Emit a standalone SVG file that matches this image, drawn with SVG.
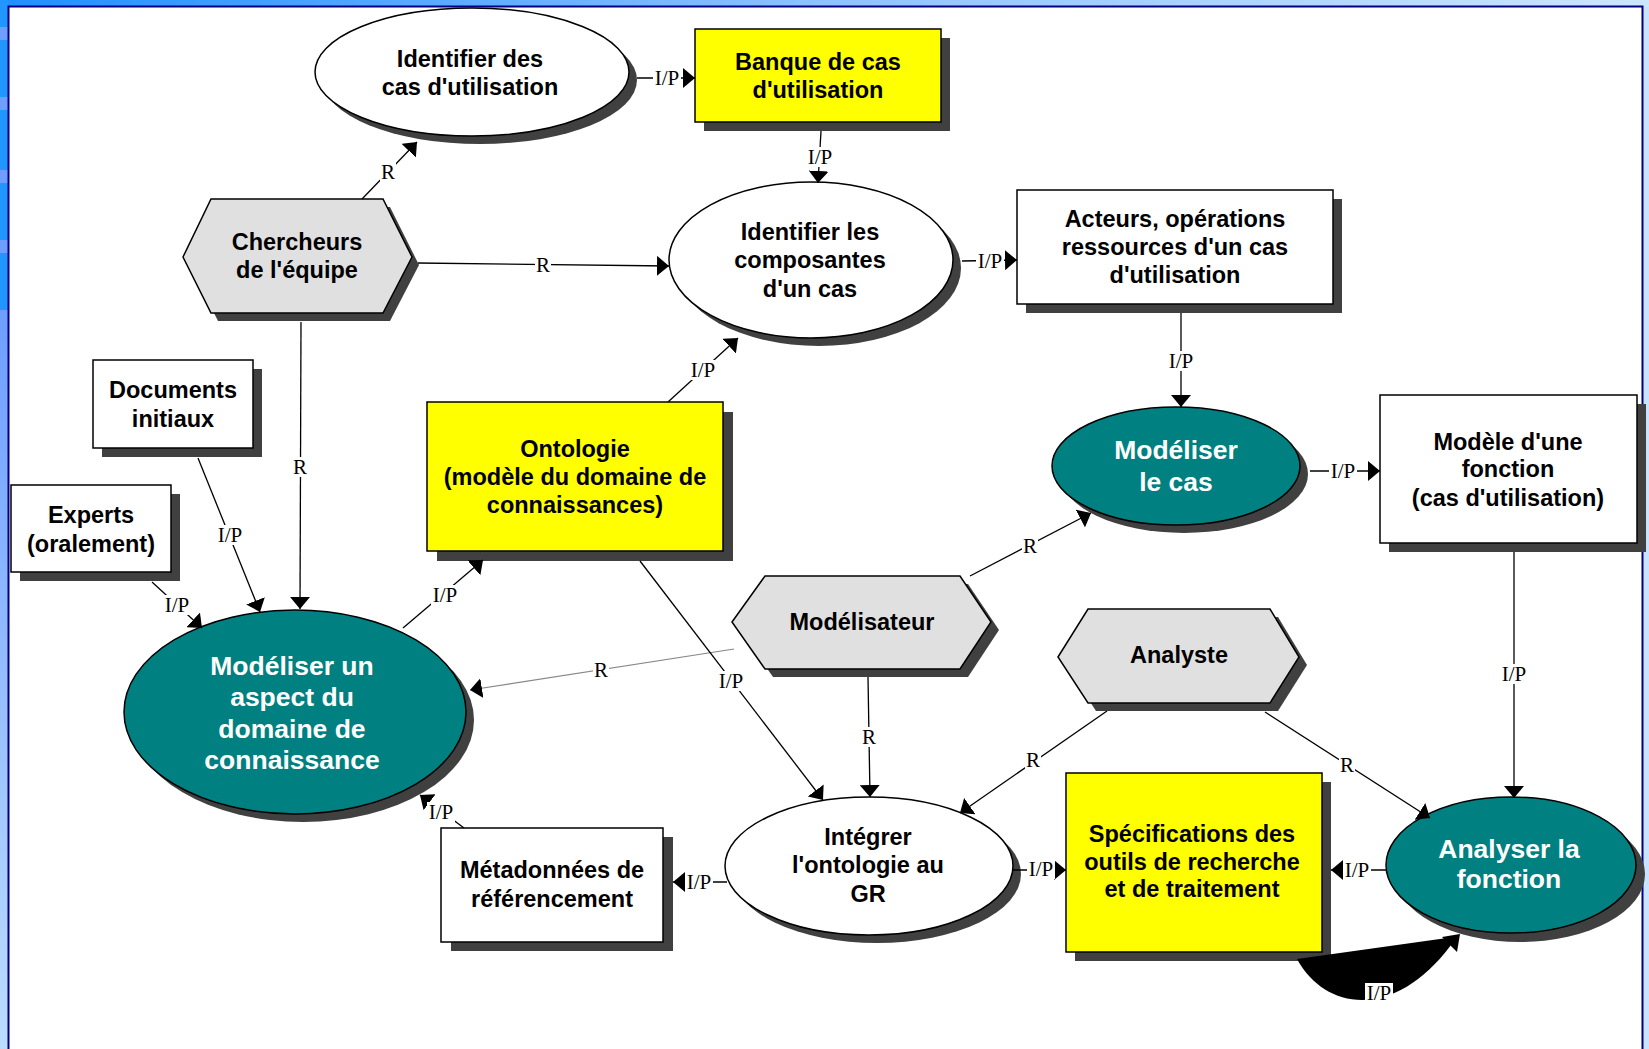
<svg xmlns="http://www.w3.org/2000/svg" width="1649" height="1049" viewBox="0 0 1649 1049">
<style>
.t{font-family:"Liberation Sans",Arial,sans-serif;font-weight:bold;font-size:23.5px;text-anchor:middle;fill:#000}
.tw{font-family:"Liberation Sans",Arial,sans-serif;font-weight:bold;font-size:26.5px;text-anchor:middle;fill:#fff}
.lbl{font-family:"Liberation Serif","Times New Roman",serif;font-size:21px;text-anchor:middle;fill:#000}
.lb{fill:#fff}
.sh{fill:#404040}
.nd{stroke:#000;stroke-width:1.5}
.w{fill:#fff}
.y{fill:#ffff00}
.tl{fill:#008080}
.hx{fill:#e0e0e0}
.c{stroke:#000;stroke-width:1.3;fill:none;marker-end:url(#ah)}
.cg{stroke:#888;stroke-width:1.2;fill:none;marker-end:url(#ah)}
</style>
<defs>
<linearGradient id="topg" x1="0" x2="1" y1="0" y2="0">
<stop offset="0" stop-color="#1E90FF"/><stop offset="0.5" stop-color="#8EC3FF"/><stop offset="1" stop-color="#CCE6FF"/>
</linearGradient>
<linearGradient id="leftg" x1="0" x2="0" y1="0" y2="1">
<stop offset="0" stop-color="#6E9EFF"/><stop offset="1" stop-color="#BCDDFF"/>
</linearGradient>
<marker id="ah" viewBox="0 0 12 20" refX="12" refY="10" markerWidth="12" markerHeight="20" markerUnits="userSpaceOnUse" orient="auto">
<path d="M0,0 L12,10 L0,20 Z" fill="#000"/>
</marker>
</defs>
<g id="frame">
<rect x="0" y="0" width="1649" height="1049" fill="url(#topg)"/>
<rect x="0" y="0" width="8" height="310" fill="#2196FF"/>
<rect x="0" y="310" width="8" height="739" fill="url(#leftg)"/>
<rect x="0" y="27" width="8" height="13" fill="#6E9EFF"/>
<rect x="0" y="97" width="8" height="13" fill="#6E9EFF"/>
<rect x="0" y="170" width="8" height="13" fill="#6E9EFF"/>
<rect x="0" y="240" width="8" height="13" fill="#6E9EFF"/>
<rect x="1643" y="7" width="6" height="1042" fill="#C8E4FF"/>
<rect x="9" y="7" width="1633" height="1042" fill="#fff"/>
<path d="M8.5,1049 V6.5 H1642.5 V1049" fill="none" stroke="#000080" stroke-width="2"/>
</g>

<g id="n-identifier-cas">
<ellipse class="sh" cx="480" cy="80" rx="157" ry="64"/>
<ellipse class="w nd" cx="472" cy="72" rx="157" ry="64"/>
<text class="t" x="470" y="67">Identifier des</text>
<text class="t" x="470" y="95">cas d'utilisation</text>
</g>
<g id="n-banque">
<rect class="sh" x="704" y="38" width="246" height="93"/>
<rect class="y nd" x="695" y="29" width="246" height="93"/>
<text class="t" x="818" y="70">Banque de cas</text>
<text class="t" x="818" y="98">d'utilisation</text>
</g>
<g id="n-identifier-composantes">
<ellipse class="sh" cx="819" cy="268" rx="142" ry="78"/>
<ellipse class="w nd" cx="811" cy="260" rx="142" ry="78"/>
<text class="t" x="810" y="240">Identifier les</text>
<text class="t" x="810" y="268">composantes</text>
<text class="t" x="810" y="297">d'un cas</text>
</g>
<g id="n-acteurs">
<rect class="sh" x="1026" y="199" width="316" height="114"/>
<rect class="w nd" x="1017" y="190" width="316" height="114"/>
<text class="t" x="1175" y="227">Acteurs, opérations</text>
<text class="t" x="1175" y="255">ressources d'un cas</text>
<text class="t" x="1175" y="283">d'utilisation</text>
</g>
<g id="n-chercheurs">
<polygon class="sh" points="190,265 218,207 390,207 419,265 390,321 218,321"/>
<polygon class="hx nd" points="183,257 211,199 383,199 412,257 383,313 211,313"/>
<text class="t" x="297" y="250">Chercheurs</text>
<text class="t" x="297" y="278">de l'équipe</text>
</g>
<g id="n-documents">
<rect class="sh" x="102" y="369" width="160" height="88"/>
<rect class="w nd" x="93" y="360" width="160" height="88"/>
<text class="t" x="173" y="398">Documents</text>
<text class="t" x="173" y="427">initiaux</text>
</g>
<g id="n-experts">
<rect class="sh" x="20" y="494" width="160" height="87"/>
<rect class="w nd" x="11" y="485" width="160" height="87"/>
<text class="t" x="91" y="523">Experts</text>
<text class="t" x="91" y="552">(oralement)</text>
</g>
<g id="n-ontologie">
<rect class="sh" x="437" y="412" width="296" height="149"/>
<rect class="y nd" x="427" y="402" width="296" height="149"/>
<text class="t" x="575" y="457">Ontologie</text>
<text class="t" x="575" y="485">(modèle du domaine de</text>
<text class="t" x="575" y="513">connaissances)</text>
</g>
<g id="n-modeliser-cas">
<ellipse class="sh" cx="1184" cy="474" rx="124" ry="59"/>
<ellipse class="tl nd" cx="1176" cy="466" rx="124" ry="59"/>
<text class="tw" x="1176" y="459">Modéliser</text>
<text class="tw" x="1176" y="491">le cas</text>
</g>
<g id="n-modele-fonction">
<rect class="sh" x="1389" y="404" width="257" height="148"/>
<rect class="w nd" x="1380" y="395" width="257" height="148"/>
<text class="t" x="1508" y="450">Modèle d'une</text>
<text class="t" x="1508" y="477">fonction</text>
<text class="t" x="1508" y="506">(cas d'utilisation)</text>
</g>
<g id="n-modeliser-aspect">
<ellipse class="sh" cx="303" cy="720" rx="171" ry="102"/>
<ellipse class="tl nd" cx="295" cy="712" rx="171" ry="102"/>
<text class="tw" x="292" y="675">Modéliser un</text>
<text class="tw" x="292" y="706">aspect du</text>
<text class="tw" x="292" y="738">domaine de</text>
<text class="tw" x="292" y="769">connaissance</text>
</g>
<g id="n-modelisateur">
<polygon class="sh" points="740,630 773,584 968,584 999,630 968,677 773,677"/>
<polygon class="hx nd" points="732,622 765,576 960,576 991,622 960,669 765,669"/>
<text class="t" x="862" y="630">Modélisateur</text>
</g>
<g id="n-analyste">
<polygon class="sh" points="1066,665 1096,617 1278,617 1307,665 1278,711 1096,711"/>
<polygon class="hx nd" points="1058,657 1088,609 1270,609 1299,657 1270,703 1088,703"/>
<text class="t" x="1179" y="663">Analyste</text>
</g>
<g id="n-integrer">
<ellipse class="sh" cx="877" cy="874" rx="144" ry="69"/>
<ellipse class="w nd" cx="869" cy="866" rx="144" ry="69"/>
<text class="t" x="868" y="845">Intégrer</text>
<text class="t" x="868" y="873">l'ontologie au</text>
<text class="t" x="868" y="902">GR</text>
</g>
<g id="n-metadonnees">
<rect class="sh" x="451" y="837" width="222" height="114"/>
<rect class="w nd" x="441" y="828" width="222" height="114"/>
<text class="t" x="552" y="878">Métadonnées de</text>
<text class="t" x="552" y="907">référencement</text>
</g>
<g id="n-specifications">
<rect class="sh" x="1075" y="782" width="256" height="179"/>
<rect class="y nd" x="1066" y="773" width="256" height="179"/>
<text class="t" x="1192" y="842">Spécifications des</text>
<text class="t" x="1192" y="870">outils de recherche</text>
<text class="t" x="1192" y="897">et de traitement</text>
</g>
<g id="n-analyser">
<ellipse class="sh" cx="1520" cy="874" rx="125" ry="68"/>
<ellipse class="tl nd" cx="1511" cy="865" rx="125" ry="68"/>
<text class="tw" x="1509" y="858">Analyser la</text>
<text class="tw" x="1509" y="888">fonction</text>
</g>

<g id="connectors">
<line class="c" x1="637" y1="78" x2="695" y2="78"/>
<line class="c" x1="821" y1="131" x2="818" y2="183"/>
<line class="c" x1="362" y1="199" x2="417" y2="142"/>
<line class="c" x1="418" y1="263" x2="669" y2="266"/>
<line class="c" x1="962" y1="261" x2="1017" y2="260"/>
<line class="c" x1="1181" y1="313" x2="1181" y2="407"/>
<line class="c" x1="1310" y1="471" x2="1380" y2="471"/>
<line class="c" x1="970" y1="576" x2="1091" y2="513"/>
<line class="cg" x1="734" y1="649" x2="470" y2="690"/>
<line class="c" x1="868" y1="677" x2="870" y2="797"/>
<line class="c" x1="640" y1="561" x2="823" y2="800"/>
<line class="c" x1="668" y1="402" x2="738" y2="338"/>
<line class="c" x1="1107" y1="711" x2="960" y2="813"/>
<line class="c" x1="1265" y1="712" x2="1430" y2="818"/>
<line class="c" x1="1514" y1="552" x2="1514" y2="798"/>
<line class="c" x1="1386" y1="870" x2="1331" y2="870"/>
<line class="c" x1="1013" y1="870" x2="1066" y2="870"/>
<line class="c" x1="727" y1="882" x2="673" y2="882"/>
<line class="c" x1="464" y1="828" x2="420" y2="795"/>
<line class="c" x1="198" y1="458" x2="260" y2="612"/>
<line class="c" x1="152" y1="582" x2="202" y2="628"/>
<line class="c" x1="301" y1="322" x2="300" y2="609"/>
<line class="c" x1="403" y1="628" x2="483" y2="560"/>
<path d="M1297,959 C1326,1012 1395,1020 1451,945 L1447,938 Z" fill="#000"/>
<polygon points="1460,934 1457,952 1442,937" fill="#000"/>
<g id="labels">
<rect class="lb" x="653" y="68" width="28" height="20"/><text class="lbl" x="667" y="85">I/P</text>
<rect class="lb" x="806" y="147" width="28" height="20"/><text class="lbl" x="820" y="164">I/P</text>
<rect class="lb" x="380" y="162" width="16" height="20"/><text class="lbl" x="388" y="179">R</text>
<rect class="lb" x="535" y="255" width="16" height="20"/><text class="lbl" x="543" y="272">R</text>
<rect class="lb" x="976" y="251" width="28" height="20"/><text class="lbl" x="990" y="268">I/P</text>
<rect class="lb" x="1167" y="351" width="28" height="20"/><text class="lbl" x="1181" y="368">I/P</text>
<rect class="lb" x="1329" y="461" width="28" height="20"/><text class="lbl" x="1343" y="478">I/P</text>
<rect class="lb" x="1022" y="536" width="16" height="20"/><text class="lbl" x="1030" y="553">R</text>
<rect class="lb" x="593" y="660" width="16" height="20"/><text class="lbl" x="601" y="677">R</text>
<rect class="lb" x="861" y="727" width="16" height="20"/><text class="lbl" x="869" y="744">R</text>
<rect class="lb" x="717" y="671" width="28" height="20"/><text class="lbl" x="731" y="688">I/P</text>
<rect class="lb" x="689" y="360" width="28" height="20"/><text class="lbl" x="703" y="377">I/P</text>
<rect class="lb" x="1025" y="750" width="16" height="20"/><text class="lbl" x="1033" y="767">R</text>
<rect class="lb" x="1339" y="755" width="16" height="20"/><text class="lbl" x="1347" y="772">R</text>
<rect class="lb" x="1500" y="664" width="28" height="20"/><text class="lbl" x="1514" y="681">I/P</text>
<rect class="lb" x="1343" y="860" width="28" height="20"/><text class="lbl" x="1357" y="877">I/P</text>
<rect class="lb" x="1027" y="859" width="28" height="20"/><text class="lbl" x="1041" y="876">I/P</text>
<rect class="lb" x="685" y="872" width="28" height="20"/><text class="lbl" x="699" y="889">I/P</text>
<rect class="lb" x="427" y="802" width="28" height="20"/><text class="lbl" x="441" y="819">I/P</text>
<rect class="lb" x="216" y="525" width="28" height="20"/><text class="lbl" x="230" y="542">I/P</text>
<rect class="lb" x="163" y="595" width="28" height="20"/><text class="lbl" x="177" y="612">I/P</text>
<rect class="lb" x="292" y="457" width="16" height="20"/><text class="lbl" x="300" y="474">R</text>
<rect class="lb" x="431" y="585" width="28" height="20"/><text class="lbl" x="445" y="602">I/P</text>
<rect class="lb" x="1365" y="983" width="28" height="20"/><text class="lbl" x="1379" y="1000">I/P</text>
</g>
</g>
</svg>
